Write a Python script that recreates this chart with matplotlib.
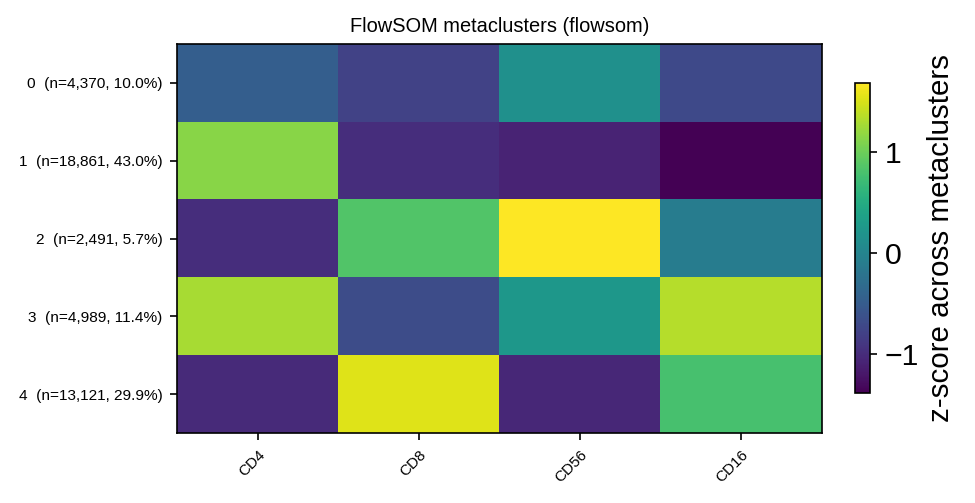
import matplotlib
matplotlib.use("Agg")
import matplotlib.pyplot as plt
import numpy as np

plt.rcParams['font.family'] = ['Liberation Sans', 'DejaVu Sans']

markers = ["CD4", "CD8", "CD56", "CD16"]
row_labels = ["0  (n=4,370, 10.0%)", "1  (n=18,861, 43.0%)", "2  (n=2,491, 5.7%)",
              "3  (n=4,989, 11.4%)", "4  (n=13,121, 29.9%)"]
z_row0 = [-0.47, -0.78, 0.145, -0.71]
z_row1 = [1.13, -0.99, -1.08, -1.39]
z_row2 = [-0.99, 0.85, 1.68, -0.10]
z_row3 = [1.28, -0.68, 0.24, 1.34]
z_row4 = [-1.02, 1.53, -1.05, 0.79]

data = np.array([z_row0, z_row1, z_row2, z_row3, z_row4])

fig = plt.figure(figsize=(6.5, 503/150), dpi=150)
ax = fig.add_axes([177/975, (503-433)/503, (822-177)/975, (433-44)/503])
cax = fig.add_axes([855/975, (503-393)/503, 15/975, 310/503])

im = ax.imshow(data, cmap='viridis', aspect='auto', interpolation='nearest')
ax.set_xticks(range(len(markers)))
ax.set_xticklabels(markers, rotation=45, ha='right', rotation_mode='anchor', fontsize=7.3)
ax.set_yticks(range(len(row_labels)))
ax.set_yticklabels(row_labels, fontsize=7.4)
ax.set_title("FlowSOM metaclusters (flowsom)", fontsize=9.6, pad=6)

cb = fig.colorbar(im, cax=cax)
cb.set_label("z-score across metaclusters", fontsize=14.2)
cb.ax.tick_params(labelsize=14.5)
cb.set_ticks([-1, 0, 1])

fig.savefig("out.png", dpi=150)
